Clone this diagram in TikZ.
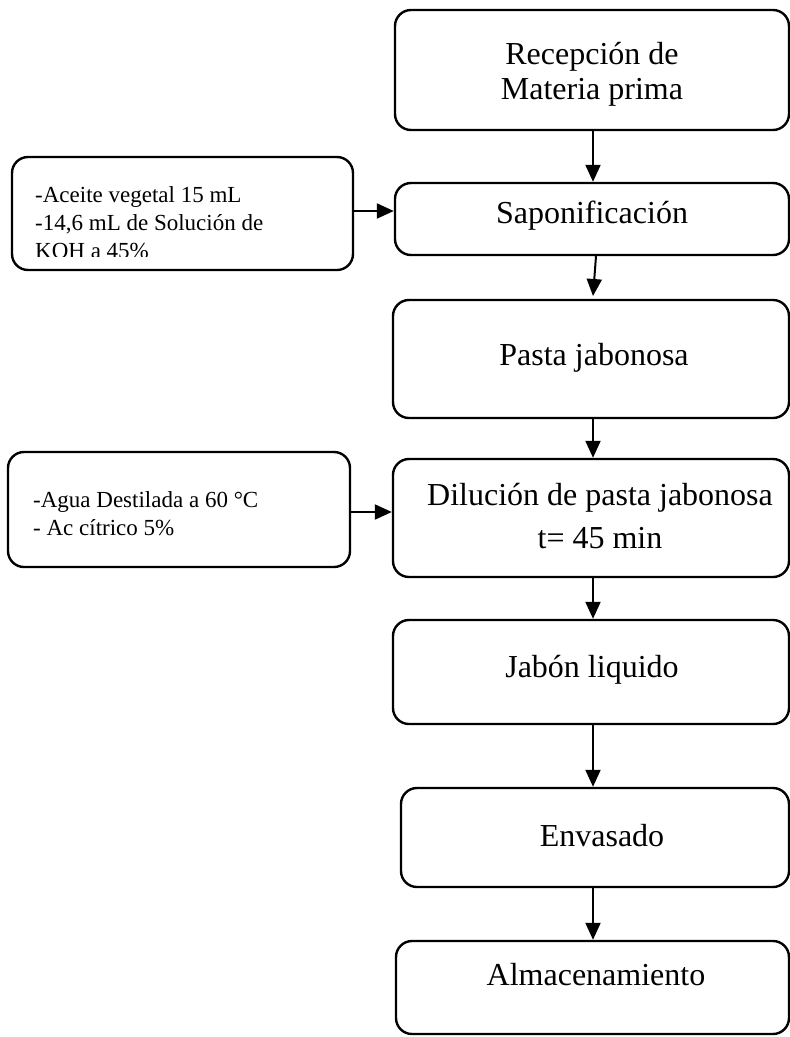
\documentclass[tikz,border=0pt]{standalone}
\usepackage{fontspec}
\setmainfont{Liberation Serif}
\usetikzlibrary{arrows.meta}
\begin{document}
\begin{tikzpicture}[x=1pt,y=-1pt,
  box/.style={draw=black, line width=2.4pt, rounded corners=16pt, inner sep=0pt},
  maintext/.style={font=\fontsize{32}{35}\selectfont, align=center, inner sep=0pt},
  sidetext/.style={font=\fontsize{23}{28}\selectfont, align=left, inner sep=0pt, anchor=north west},
  arr/.style={line width=2pt, -{Triangle[length=17pt,width=15pt]}}]
\useasboundingbox[fill=white] (0,0) rectangle (790,1037);
\clip (0,0) rectangle (790,1037);

% main column
\node[box, minimum width=394pt, minimum height=120pt] (b1) at (592,70) {};
\node[maintext] (t1) at (592,74) {Recepción de\\Materia prima};

\node[box, minimum width=394pt, minimum height=72pt] (b2) at (592,219) {};
\node[maintext] (t2) at (592,216) {Saponificación};

\node[box, minimum width=396pt, minimum height=118pt] (b3) at (591,359) {};
\node[maintext] (t3) at (594,358) {Pasta jabonosa};

\node[box, minimum width=396pt, minimum height=118pt] (b4) at (591,518) {};
\node[maintext, font=\fontsize{32}{43}\selectfont] (t4) at (600,516) {Dilución de pasta jabonosa\\t= 45 min};

\node[box, minimum width=396pt, minimum height=104pt] (b5) at (591,672) {};
\node[maintext] (t5) at (592,670) {Jabón liquido};

\node[box, minimum width=388pt, minimum height=99pt] (b6) at (595,837.5) {};
\node[maintext] (t6) at (602,836) {Envasado};

\node[box, minimum width=393pt, minimum height=93pt] (b7) at (592.5,987.5) {};
\node[maintext] (t7) at (596,975) {Almacenamiento};

% side boxes
\node[box, minimum width=341pt, minimum height=113pt] (l1) at (182.5,213.5) {};
\begin{scope}
  \clip (12,157) rectangle (353,256);
  \node[sidetext] (lt1) at (35,186) {-Aceite vegetal 15 mL\\-14,6 mL de Solución de\\KOH a 45\%};
\end{scope}

\node[box, minimum width=342pt, minimum height=115pt] (l2) at (179,509.5) {};
\node[sidetext] (lt2) at (33,491) {-Agua Destilada a 60 °C\\- Ac cítrico 5\%};

% connectors
\draw[arr] (b1.south -| 593,0) -- (b2.north -| 593,0);
\draw[arr] (b2.south -| 596,0) -- (593,296);
\draw[arr] (b3.south -| 593,0) -- (b4.north -| 593,0);
\draw[arr] (b4.south -| 593,0) -- (b5.north -| 593,0);
\draw[arr] (b5.south -| 593,0) -- (b6.north -| 593,0);
\draw[arr] (b6.south -| 593,0) -- (b7.north -| 593,0);
\draw[arr] (l1.east |- 0,211) -- (b2.west |- 0,211);
\draw[arr] (l2.east |- 0,512) -- (b4.west |- 0,512);
\end{tikzpicture}
\end{document}
